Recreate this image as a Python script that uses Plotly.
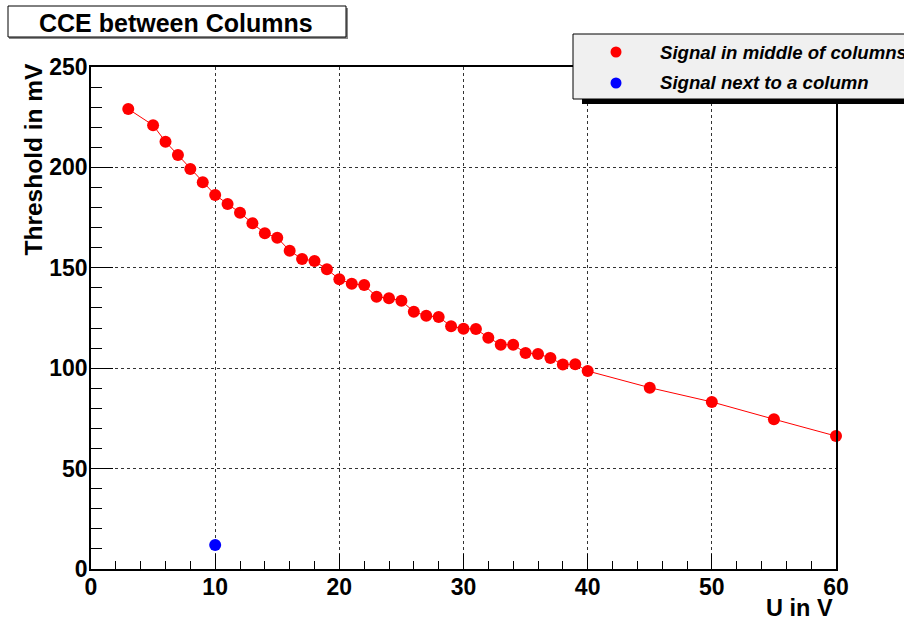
import plotly.graph_objects as go

# ---- data ----
voltage_mid = [3, 5, 6, 7, 8, 9, 10, 11, 12, 13, 14, 15, 16, 17, 18, 19, 20,
               21, 22, 23, 24, 25, 26, 27, 28, 29, 30, 31, 32, 33, 34, 35, 36,
               37, 38, 39, 40, 45, 50, 55, 60]
threshold_mid = [229.1, 221.0, 212.8, 206.2, 199.2, 192.6, 186.3, 181.8, 177.4,
                 172.2, 167.2, 165.0, 158.5, 154.4, 153.4, 149.3, 144.3, 142.0,
                 141.4, 135.6, 134.8, 133.6, 128.1, 126.1, 125.5, 120.9, 119.7,
                 119.5, 115.2, 111.7, 111.7, 107.6, 107.1, 105.1, 101.8, 102.0,
                 98.6, 90.3, 83.2, 74.6, 66.2]
voltage_col = [10]
threshold_col = [12.0]

series_names = ["Signal in middle of columns", "Signal next to a column"]
series_colors = ["#ff0000", "#0000ff"]
title_text = "CCE between Columns"
x_title = "U in V"
y_title = "Threshold in mV"

W, H = 904, 622
L, R, T, B = 91, 68, 67, 53
PW, PH = W - L - R, H - T - B


def px(x):
    return (x - L) / PW


def py(y):
    return (H - B - y) / PH


FONT = "Liberation Sans, Arial, Helvetica, sans-serif"

fig = go.Figure()
fig.add_trace(go.Scatter(x=voltage_mid, y=threshold_mid, mode="lines+markers",
                         line=dict(color=series_colors[0], width=1),
                         marker=dict(color=series_colors[0], size=12),
                         cliponaxis=False, showlegend=False))
fig.add_trace(go.Scatter(x=voltage_col, y=threshold_col, mode="markers",
                         marker=dict(color=series_colors[1], size=12),
                         cliponaxis=False, showlegend=False))

axis_common = dict(showline=True, linecolor="black", linewidth=1.5, mirror=True,
                   showgrid=True, gridcolor="#333333", griddash="dot", gridwidth=1,
                   zeroline=False, ticks="inside", tickcolor="black",
                   tickfont=dict(family=FONT, size=23, color="black", weight="bold"))

fig.update_xaxes(range=[0, 60], dtick=10, ticklen=15, tickwidth=1,
                 ticklabelstandoff=-3,
                 minor=dict(dtick=2, ticklen=8, ticks="inside", tickcolor="black",
                            showgrid=False),
                 **axis_common)
fig.update_yaxes(range=[0, 250], dtick=50, ticklen=22, tickwidth=1,
                 ticklabelstandoff=-3,
                 minor=dict(dtick=10, ticklen=11, ticks="inside", tickcolor="black",
                            showgrid=False),
                 **axis_common)

shapes = []
annotations = []

# title box
shapes.append(dict(type="rect", xref="paper", yref="paper",
                   x0=px(9), x1=px(348), y0=py(8), y1=py(39),
                   fillcolor="#888888", line=dict(width=0), layer="above"))
shapes.append(dict(type="rect", xref="paper", yref="paper",
                   x0=px(8), x1=px(346), y0=py(6), y1=py(37),
                   fillcolor="white", line=dict(color="black", width=1), layer="above"))
annotations.append(dict(xref="paper", yref="paper", x=px(176), y=py(23),
                        text=title_text, showarrow=False, xanchor="center", yanchor="middle",
                        font=dict(family=FONT, size=25, color="black", weight="bold")))

# legend box with shadow
shapes.append(dict(type="rect", xref="paper", yref="paper",
                   x0=px(582), x1=px(910), y0=py(35), y1=py(104),
                   fillcolor="black", line=dict(width=0), layer="above"))
shapes.append(dict(type="rect", xref="paper", yref="paper",
                   x0=px(573), x1=px(912), y0=py(34), y1=py(99),
                   fillcolor="#f0f0f0", line=dict(color="black", width=1), layer="above"))
for i, (name, col) in enumerate(zip(series_names, series_colors)):
    cy = 52 + i * 31
    shapes.append(dict(type="circle", xref="paper", yref="paper",
                       xsizemode="pixel", ysizemode="pixel",
                       xanchor=px(616), yanchor=py(cy),
                       x0=-5.5, x1=5.5, y0=-5.5, y1=5.5,
                       fillcolor=col, line=dict(width=0), layer="above"))
    annotations.append(dict(xref="paper", yref="paper", x=px(658), y=py(cy),
                            text=name, showarrow=False, xanchor="left", yanchor="middle",
                            font=dict(family=FONT, size=18.6, color="black",
                                      weight="bold", style="italic")))

# axis titles
annotations.append(dict(xref="paper", yref="paper", x=px(835), y=py(608),
                        text=x_title, showarrow=False, xanchor="right", yanchor="middle",
                        font=dict(family=FONT, size=23.5, color="black", weight="bold")))
annotations.append(dict(xref="paper", yref="paper", x=px(33), y=py(61),
                        text=y_title, showarrow=False, textangle=-90,
                        xanchor="center", yanchor="top",
                        font=dict(family=FONT, size=24.5, color="black", weight="bold")))

fig.update_layout(width=W, height=H, autosize=False,
                  margin=dict(l=L, r=R, t=T, b=B, pad=0),
                  paper_bgcolor="white", plot_bgcolor="white",
                  shapes=shapes, annotations=annotations, showlegend=False)

fig.write_html("out.html")
